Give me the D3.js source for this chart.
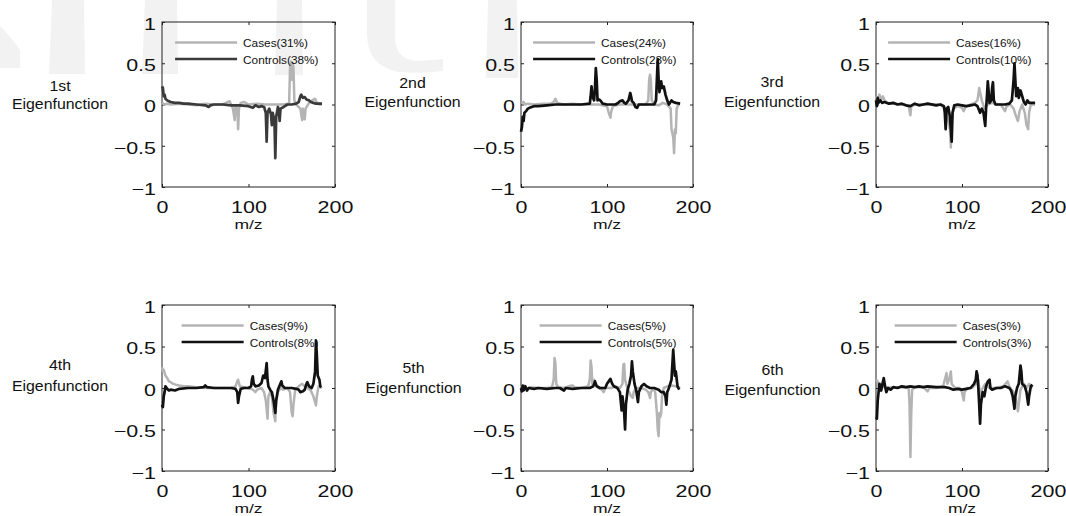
<!DOCTYPE html>
<html>
<head>
<meta charset="utf-8">
<script src="https://cdn.jsdelivr.net/npm/d3@7"></script>
<style>
html,body{margin:0;padding:0;background:#fff;}
svg{display:block;}
</style>
</head>
<body>
<script>
// ---------- data ----------
const xTicks = [0, 100, 200];
const yTicks = [-1, -0.5, 0, 0.5, 1];
const ordinals = ["1st", "2nd", "3rd", "4th", "5th", "6th"];
const casesPct = [31, 24, 16, 9, 5, 3];
const controlsPct = [38, 23, 10, 8, 5, 3];

const cases1 = [[0,0.02],[3,0.0],[6,0.01],[10,0.0],[20,0.01],[30,0],[40,-0.01],[50,0.01],[60,0],[70,0],[78,0.04],[80,0.0],[82,-0.05],[84,-0.19],[85,-0.02],[87,-0.05],[88,-0.3],[89,-0.05],[91,0.02],[95,0.03],[100,0],[110,0.01],[120,0],[130,0],[140,0],[146,0.01],[147,0.02],[148,0.45],[149,0.52],[150,0.3],[151,0.5],[152,0.45],[153,0.05],[155,0],[160,-0.05],[162,-0.19],[163,-0.05],[165,-0.18],[166,-0.05],[170,0.02],[175,0.06],[177,0.07],[179,0.02],[182,0.0],[185,0.0]];
const controls1 = [[0,0.22],[1,0.2],[2,0.1],[3,0.12],[4,0.07],[6,0.05],[8,0.04],[10,0.03],[15,0.02],[20,0.02],[25,0.01],[30,0.01],[40,0],[50,-0.01],[54,-0.03],[56,-0.01],[60,0],[70,0],[80,-0.01],[90,-0.01],[100,-0.02],[105,-0.04],[108,-0.01],[112,-0.03],[115,-0.02],[118,-0.03],[120,-0.1],[121,-0.45],[122,-0.1],[124,-0.05],[126,-0.12],[127,-0.25],[128,-0.1],[130,-0.2],[131,-0.65],[132,-0.15],[134,-0.03],[135,-0.06],[136,-0.2],[137,-0.05],[139,-0.04],[142,-0.02],[145,0],[150,0],[155,0.01],[158,0.03],[160,0.1],[161,0.12],[163,0.08],[165,0.09],[167,0.06],[170,0.05],[172,0.03],[175,0.02],[178,0.01],[182,0.01],[185,0.01]];

const cases2 = [[0,0.02],[3,0.03],[5,0.0],[8,0.01],[15,0],[25,0.01],[35,0.01],[38,0.03],[40,0.07],[42,0.02],[50,0],[60,0.01],[70,0],[80,0],[90,0],[100,-0.02],[102,-0.1],[104,-0.16],[105,-0.08],[107,-0.02],[115,0],[125,0],[135,0],[145,0],[148,0.05],[149,0.3],[150,0.36],[151,0.3],[152,0.05],[155,0],[160,-0.01],[165,0.02],[170,0],[174,-0.05],[175,-0.3],[177,-0.4],[178,-0.59],[179,-0.3],[180,-0.35],[181,-0.05],[183,0],[185,0]];
const controls2 = [[0,-0.33],[1,-0.28],[2,-0.15],[3,-0.2],[4,-0.1],[6,-0.08],[8,-0.05],[10,-0.04],[15,-0.02],[20,-0.02],[30,-0.01],[40,0],[50,0],[60,0],[70,0],[80,0.01],[81,0.1],[82,0.22],[83,0.1],[85,0.05],[86,0.2],[87,0.44],[88,0.3],[89,0.05],[91,0.06],[93,0.04],[95,0.01],[100,0],[105,0],[110,0],[113,0.02],[115,0.04],[118,0.05],[120,0.02],[122,0.01],[125,0.05],[127,0.14],[128,0.1],[129,0.04],[131,0.02],[133,-0.03],[135,-0.04],[137,0],[140,0],[150,0],[155,0],[157,0.05],[158,0.3],[159,0.55],[160,0.3],[161,0.15],[163,0.28],[164,0.2],[166,0.22],[168,0.12],[170,0.05],[172,0],[175,0.05],[177,0.03],[180,0.02],[185,0.01]];

const cases3 = [[0,0.1],[2,0.05],[4,0.12],[6,0.06],[8,0.1],[10,0.05],[13,0.02],[20,0.01],[30,0],[38,-0.02],[40,-0.13],[41,-0.02],[45,0],[55,0],[65,0],[75,0],[80,-0.05],[82,-0.1],[84,-0.2],[86,-0.3],[87,-0.52],[88,-0.2],[90,-0.05],[95,-0.02],[100,-0.04],[102,-0.08],[104,-0.03],[110,0],[115,0.02],[118,0.05],[120,0.2],[121,0.15],[123,0.05],[126,-0.05],[130,0],[135,0.02],[140,0],[145,0],[150,-0.08],[152,-0.02],[156,0],[160,-0.05],[163,-0.15],[165,-0.2],[167,-0.08],[170,0],[173,-0.1],[175,-0.25],[177,-0.3],[178,-0.1],[180,0],[185,0]];
const controls3 = [[0,0.05],[1,-0.02],[2,0.08],[3,0.02],[5,0.05],[7,0.02],[10,0.03],[15,0.01],[20,0.02],[25,0],[30,0.01],[35,-0.01],[40,-0.02],[45,0.01],[50,-0.01],[55,0],[60,0.01],[70,-0.01],[75,0],[79,-0.02],[80,-0.1],[81,-0.3],[82,-0.05],[84,-0.03],[86,-0.15],[88,-0.45],[89,-0.1],[91,-0.01],[95,0],[100,-0.01],[105,-0.02],[110,-0.01],[115,0],[118,-0.02],[121,-0.1],[123,-0.05],[125,-0.1],[127,-0.26],[128,-0.05],[129,0.1],[130,0.28],[131,0.15],[132,0.02],[134,0.05],[135,0.2],[136,0.27],[137,0.05],[139,0],[145,0],[150,0],[155,0.01],[158,0.05],[160,0.3],[161,0.5],[162,0.3],[163,0.1],[165,0.2],[166,0.08],[168,0.17],[170,0.1],[172,0.03],[174,0],[176,0.05],[178,0.02],[182,0.02],[185,0.02]];

const cases4 = [[0,0.25],[1,0.2],[2,0.22],[4,0.15],[6,0.12],[8,0.08],[10,0.07],[13,0.05],[16,0.04],[20,0.03],[25,0.02],[30,0.02],[40,0.01],[50,0],[60,0],[70,0],[80,0],[85,0.02],[87,0.08],[88,0.1],[90,0.02],[95,0.01],[100,0],[105,-0.02],[108,-0.05],[110,-0.02],[115,0],[118,-0.05],[120,-0.15],[122,-0.37],[123,-0.1],[125,-0.05],[127,-0.1],[129,-0.3],[131,-0.4],[132,-0.15],[134,-0.05],[137,0],[140,-0.02],[145,0],[148,-0.05],[150,-0.3],[151,-0.34],[152,-0.2],[154,-0.02],[158,0.02],[162,0.05],[165,0.02],[168,0],[172,-0.03],[175,-0.1],[178,-0.21],[179,-0.1],[181,0.02],[185,0]];
const controls4 = [[0,-0.2],[1,-0.23],[2,-0.1],[3,-0.05],[4,0.02],[6,-0.01],[8,-0.03],[10,-0.02],[15,-0.03],[20,-0.01],[30,0],[40,0],[48,0.01],[50,0.03],[52,0.01],[60,0],[70,0],[80,0],[85,-0.01],[87,-0.05],[88,-0.18],[89,-0.1],[91,-0.01],[95,0],[100,0],[103,0.02],[104,0.1],[105,0.14],[106,0.05],[108,0.02],[112,0.03],[115,0.06],[117,0.15],[119,0.12],[121,0.3],[122,0.1],[123,0.02],[125,-0.02],[127,-0.05],[129,-0.15],[131,-0.3],[132,-0.15],[134,-0.02],[136,0.03],[138,0.08],[139,0.03],[142,0],[150,0],[155,-0.01],[158,-0.02],[160,-0.05],[163,-0.04],[165,-0.02],[167,0.05],[168,0.07],[170,0.02],[173,0.0],[175,0.05],[177,0.2],[178,0.57],[179,0.4],[180,0.15],[182,0.1],[183,0.02],[184,0.01]];

const cases5 = [[0,0.03],[2,0.0],[4,0.03],[6,-0.02],[10,0.01],[20,0],[30,0],[36,0.01],[38,0.1],[39,0.36],[40,0.3],[41,0.05],[43,0.01],[50,0],[55,0.02],[60,0.03],[62,0.01],[70,0],[78,0.02],[80,0.1],[81,0.33],[82,0.25],[83,0.05],[85,0.1],[87,0.05],[90,0],[94,-0.02],[96,-0.05],[98,0],[105,0],[110,0.02],[115,0],[118,0.05],[119,0.28],[120,0.29],[121,0.1],[123,0.02],[126,-0.05],[128,-0.1],[130,-0.12],[131,-0.05],[134,0],[140,0],[145,-0.02],[148,-0.05],[150,-0.12],[151,-0.05],[154,0],[156,-0.05],[158,-0.3],[159,-0.5],[160,-0.58],[161,-0.3],[162,-0.35],[163,-0.3],[164,-0.1],[166,0],[170,0.02],[175,0.03],[180,0.02],[185,0]];
const controls5 = [[0,0.0],[1,-0.04],[2,0.03],[3,-0.03],[5,0.02],[7,-0.03],[9,0],[15,-0.01],[20,0],[30,-0.01],[40,0],[45,0],[50,-0.03],[52,0],[60,-0.01],[70,0],[80,0],[84,0.02],[86,0.08],[88,0.02],[92,0],[98,0.0],[100,0.05],[102,0.08],[104,0.11],[106,0.05],[108,0.02],[112,0],[115,-0.05],[117,-0.27],[118,-0.1],[120,-0.3],[121,-0.5],[122,-0.2],[124,-0.02],[126,0.05],[128,0.15],[129,0.32],[130,0.2],[132,0.05],[134,-0.03],[136,-0.17],[137,-0.05],[140,0.02],[143,0.05],[146,0.02],[150,0],[155,0],[160,-0.02],[163,-0.05],[166,-0.05],[168,-0.1],[169,-0.2],[170,-0.05],[172,0],[175,0.1],[177,0.46],[178,0.3],[179,0.15],[180,0.2],[182,0.02],[184,-0.02]];

const cases6 = [[0,0.1],[2,0.08],[4,-0.02],[6,0.05],[8,0.02],[12,0],[20,0.01],[30,0.01],[38,0],[39,-0.2],[40,-0.83],[41,-0.3],[42,-0.02],[45,0.01],[55,0.01],[58,-0.02],[60,-0.04],[62,0],[70,0],[78,0.02],[80,0.1],[82,0.18],[83,0.05],[85,0.1],[87,0.2],[88,0.05],[92,0],[97,0.0],[100,-0.05],[102,-0.15],[103,-0.05],[106,0],[112,0],[116,0.05],[119,0.1],[121,-0.1],[123,-0.02],[127,0.05],[132,0],[140,0],[148,0.02],[153,0.08],[155,0.02],[160,-0.05],[163,-0.15],[165,-0.28],[166,-0.2],[168,-0.02],[172,0.05],[175,0],[178,0.05],[180,0.03],[182,0.0]];
const controls6 = [[0,-0.35],[1,-0.37],[2,-0.15],[3,-0.05],[4,0.05],[5,0.0],[6,-0.03],[7,0.02],[9,0.12],[10,0.05],[12,-0.05],[14,0],[17,-0.02],[20,0.01],[25,0],[30,0.02],[35,0.01],[40,0.02],[45,0.01],[50,0.02],[55,0.01],[60,0.02],[70,0.01],[80,0.01],[85,0],[90,-0.02],[95,-0.01],[100,-0.02],[105,-0.01],[110,0],[114,0.05],[116,0.1],[117,0.2],[118,0.15],[119,0],[120,-0.2],[121,-0.43],[122,-0.2],[124,-0.05],[126,-0.1],[128,0.02],[130,0.08],[132,0.1],[133,0.0],[135,-0.02],[140,0],[145,0],[150,0.02],[155,0.0],[157,-0.03],[159,-0.1],[161,-0.25],[162,-0.1],[164,0],[166,0.05],[168,0.27],[169,0.2],[170,0.05],[173,0.02],[175,-0.05],[177,-0.2],[178,-0.1],[180,0.02],[182,0.04]];

const casesSeries = [cases1, cases2, cases3, cases4, cases5, cases6];
const controlsSeries = [controls1, controls2, controls3, controls4, controls5, controls6];

// ---------- layout ----------
const layout = [
  {l:162, r:335,  t:22,  b:187, lx:60,    ly1:90.7,  ly2:109,   ctrl:"#3a3a3a"},
  {l:521, r:693,  t:22,  b:187, lx:412.5, ly1:88.3,  ly2:107.3, ctrl:"#111"},
  {l:876, r:1048, t:22,  b:187, lx:772,   ly1:87.3,  ly2:107.3, ctrl:"#111"},
  {l:162, r:335,  t:305, b:471, lx:60,    ly1:370.3, ly2:391,   ctrl:"#111"},
  {l:521, r:693,  t:305, b:471, lx:413.5, ly1:373.3, ly2:393.3, ctrl:"#111"},
  {l:876, r:1048, t:305, b:471, lx:772.5, ly1:375,   ly2:395,   ctrl:"#111"}
];
const FONT = "'Liberation Sans', Arial, Helvetica, sans-serif";
const caseColor = "#b4b4b4";
const caseWidth = 2.5, ctrlWidth = 2.7;

const svg = d3.select("body").append("svg")
  .attr("width", 1066).attr("height", 516)
  .style("background", "#fff");

// faint background watermark shapes
const wm = svg.append("g").attr("fill", "#f2f2f2");
[[52,84,49,85,74],[145,177,142,178,74],[277,302,275,303,75],[488,517,486,518,78]].forEach(b => {
  wm.append("path").attr("d", `M${b[0]},0 L${b[1]},0 L${b[3]},${b[4]} L${b[2]},${b[4]} Z`);
});
wm.append("path").attr("d", "M0,26 Q12,38 20,50 L20,68 L0,68 Z");
wm.append("path").attr("d", "M367,0 L395,0 L395,40 Q397,61 420,61 L443,59 L443,71 Q420,74 398,72 Q368,66 367,35 Z");

const fmt = d3.format("~g");

function stretchedText(g, x, y, txt, size, sx, anchor) {
  return g.append("text")
    .attr("transform", `translate(${x},${y}) scale(${sx},1)`)
    .attr("text-anchor", anchor || "start")
    .attr("font-family", FONT)
    .attr("font-size", size)
    .attr("fill", "#111")
    .text(txt);
}

layout.forEach((L, i) => {
  const g = svg.append("g");
  const x = d3.scaleLinear().domain([0, 200]).range([L.l, L.r]);
  const y = d3.scaleLinear().domain([-1, 1]).range([L.b, L.t]);

  // box
  g.append("rect").attr("x", L.l).attr("y", L.t)
    .attr("width", L.r - L.l).attr("height", L.b - L.t)
    .attr("fill", "none").attr("stroke", "#222").attr("stroke-width", 1);

  const SX = 1.3;
  // bottom axis
  const gb = g.append("g").attr("transform", `translate(0,${L.b})`)
    .call(d3.axisBottom(x).tickValues(xTicks).tickSize(-3).tickSizeOuter(0).tickFormat(fmt));
  gb.select(".domain").remove();
  gb.selectAll("line").attr("stroke", "#222");
  gb.attr("font-family", FONT).attr("font-size", 16.5);
  gb.selectAll("text")
    .attr("y", null).attr("dy", null)
    .attr("transform", `translate(0,26.3) scale(${SX},1)`)
    .attr("font-family", FONT).attr("font-size", 16.5).attr("fill", "#111");

  // top axis (ticks only)
  const gt = g.append("g").attr("transform", `translate(0,${L.t})`)
    .call(d3.axisTop(x).tickValues(xTicks).tickSize(-3).tickSizeOuter(0).tickFormat(""));
  gt.select(".domain").remove();
  gt.selectAll("line").attr("stroke", "#222");

  // left axis
  const gl = g.append("g").attr("transform", `translate(${L.l},0)`)
    .call(d3.axisLeft(y).tickValues(yTicks).tickSize(-3).tickSizeOuter(0).tickFormat(fmt));
  gl.select(".domain").remove();
  gl.selectAll("line").attr("stroke", "#222");
  gl.attr("font-family", FONT).attr("font-size", 16.5);
  gl.selectAll("text")
    .attr("x", -6 / SX).attr("dy", "0.45em")
    .attr("transform", `scale(${SX},1)`)
    .attr("text-anchor", "end")
    .attr("font-family", FONT).attr("font-size", 16.5).attr("fill", "#111");

  // right axis (ticks only)
  const gr = g.append("g").attr("transform", `translate(${L.r},0)`)
    .call(d3.axisRight(y).tickValues(yTicks).tickSize(-3).tickSizeOuter(0).tickFormat(""));
  gr.select(".domain").remove();
  gr.selectAll("line").attr("stroke", "#222");

  // x axis label
  stretchedText(g, (L.l + L.r) / 2, L.b + 42, "m/z", 13.5, 1.3, "middle");

  // row label
  stretchedText(g, L.lx, L.ly1, ordinals[i], 15, 1.06, "middle");
  stretchedText(g, L.lx, L.ly2, "Eigenfunction", 15, 1.06, "middle");

  // lines
  const line = d3.line().x(d => x(d[0])).y(d => y(d[1]));
  g.append("path").datum(casesSeries[i])
    .attr("d", line).attr("fill", "none")
    .attr("stroke", caseColor).attr("stroke-width", caseWidth)
    .attr("stroke-linejoin", "round");
  g.append("path").datum(controlsSeries[i])
    .attr("d", line).attr("fill", "none")
    .attr("stroke", L.ctrl).attr("stroke-width", ctrlWidth)
    .attr("stroke-linejoin", "round");

  // legend
  const LS = 11.8, LSX = 1.0;
  const t1 = stretchedText(g, 0, 0, `Cases(${casesPct[i]}%)`, LS, LSX);
  const t2 = stretchedText(g, 0, 0, `Controls(${controlsPct[i]}%)`, LS, LSX);
  const w = Math.max(t1.node().getComputedTextLength(), t2.node().getComputedTextLength()) * LSX;
  const tx = L.r - 16.5 - w;
  const y1 = L.t + 20.5, y2 = L.t + 37;
  t1.attr("transform", `translate(${tx},${y1 + 4.5}) scale(${LSX},1)`);
  t2.attr("transform", `translate(${tx},${y2 + 4.5}) scale(${LSX},1)`);
  g.append("line").attr("x1", tx - 68).attr("x2", tx - 6).attr("y1", y1).attr("y2", y1)
    .attr("stroke", caseColor).attr("stroke-width", caseWidth);
  g.append("line").attr("x1", tx - 68).attr("x2", tx - 6).attr("y1", y2).attr("y2", y2)
    .attr("stroke", L.ctrl).attr("stroke-width", ctrlWidth);
});
</script>
</body>
</html>
